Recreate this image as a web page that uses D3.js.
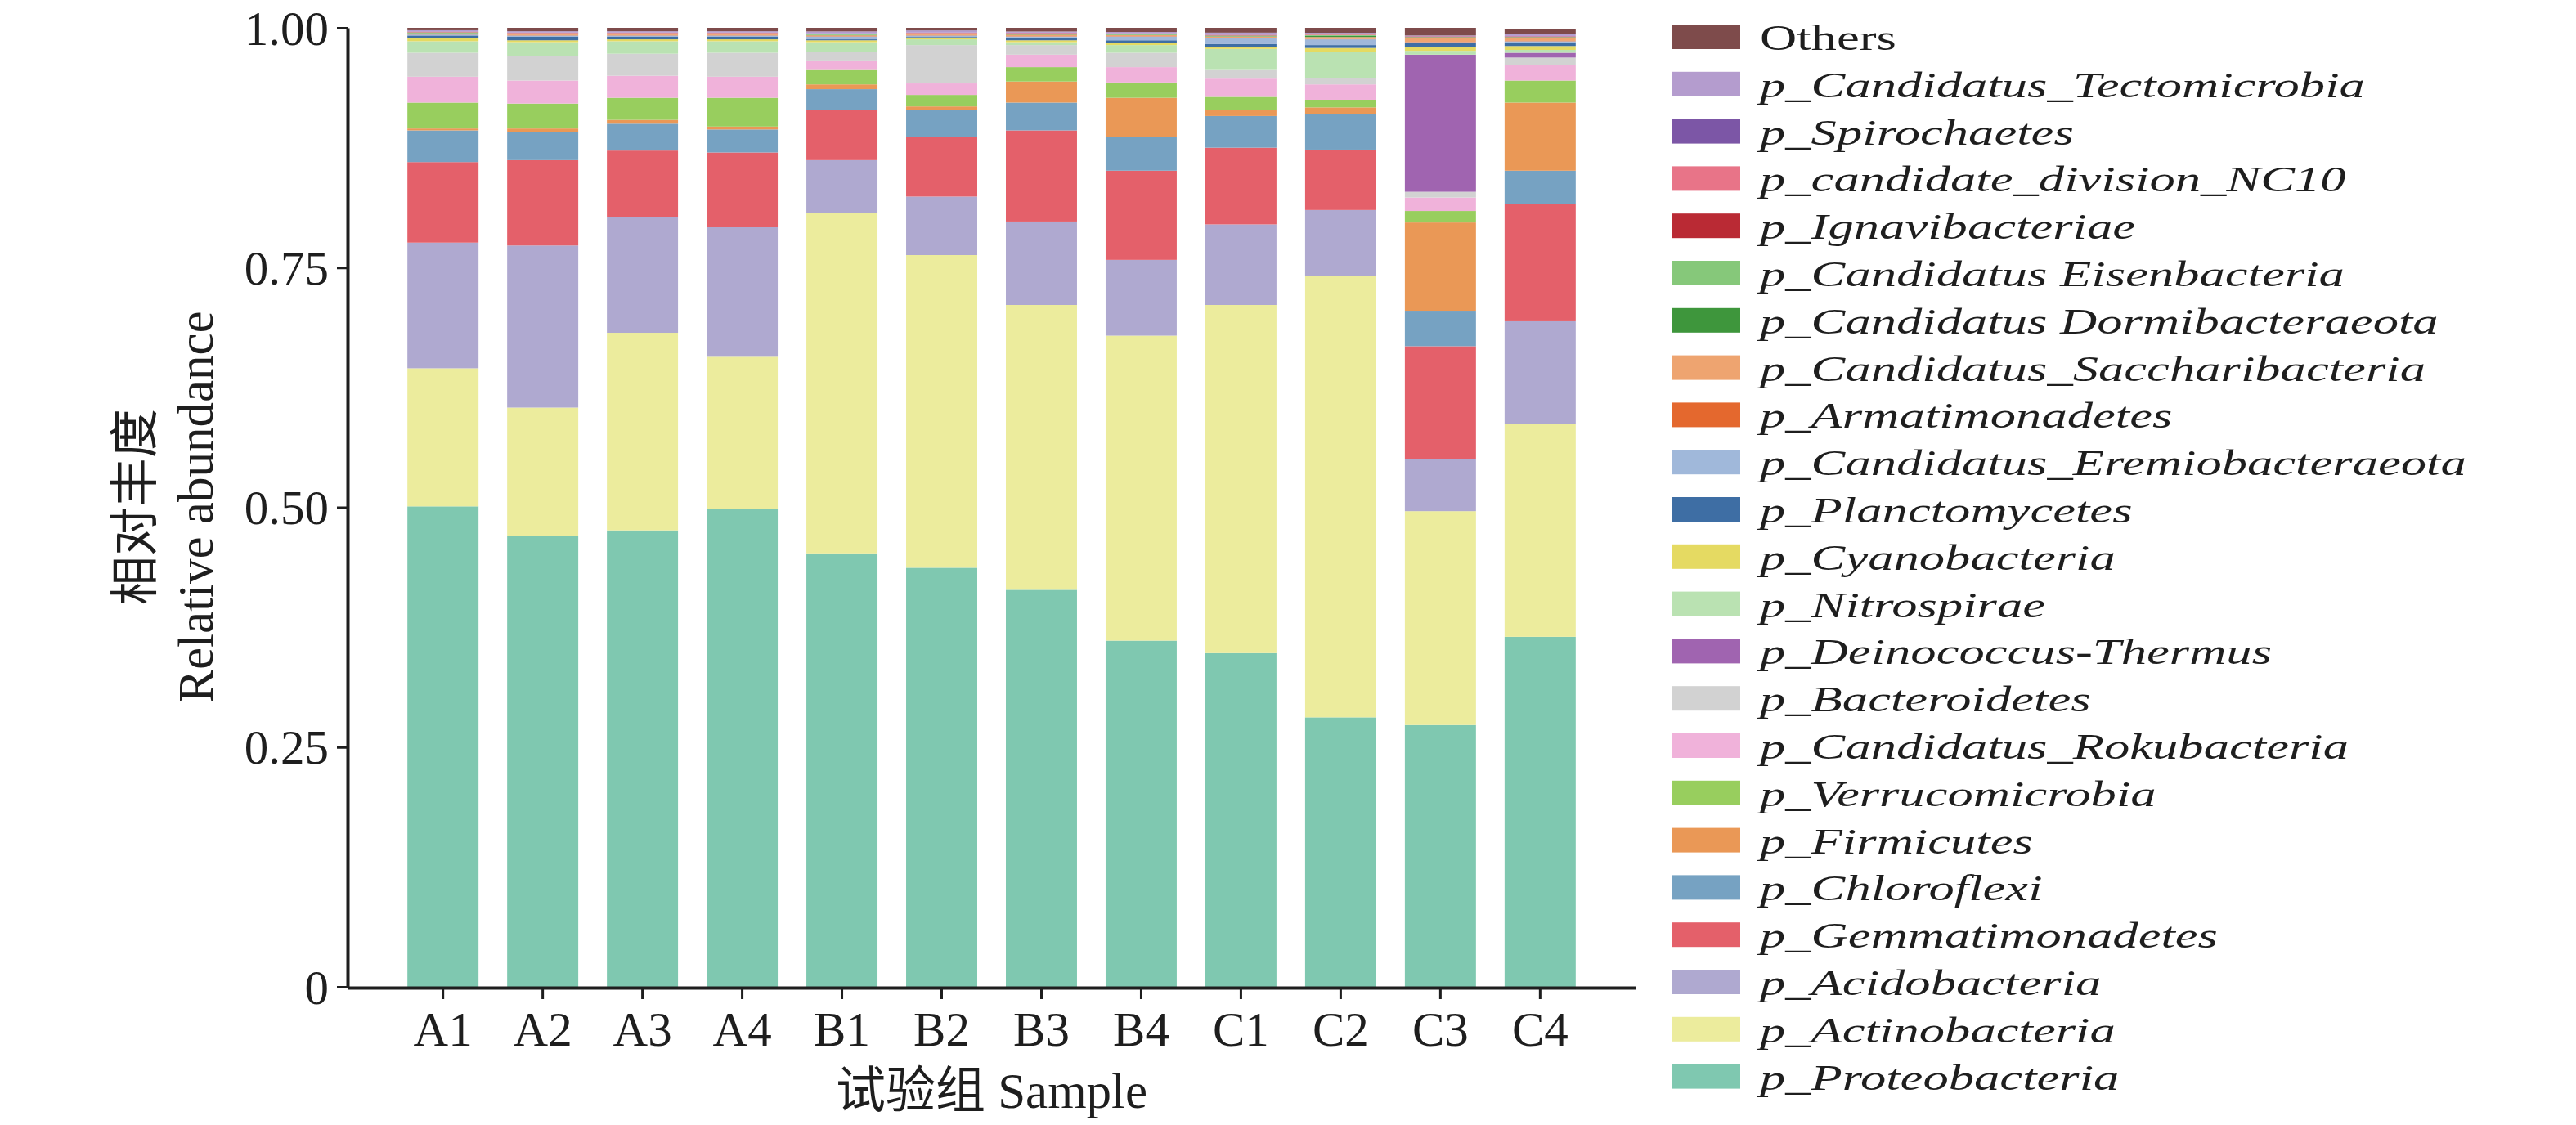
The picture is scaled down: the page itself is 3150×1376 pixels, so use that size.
<!DOCTYPE html>
<html>
<head>
<meta charset="utf-8">
<script src="https://cdn.jsdelivr.net/npm/d3@7"></script>
<style>
	body { margin: 0; background: #fff; }
	text { font-family: 'Liberation Serif', 'Times New Roman', 'Noto Sans CJK SC', serif; fill: #1e1e1e; }
</style>
</head>
<body>
<div id="js_chart"></div>
<script>
'use strict';

// samples on the x axis
const samples = ['A1', 'A2', 'A3', 'A4', 'B1', 'B2', 'B3', 'B4', 'C1', 'C2', 'C3', 'C4'];

// phyla, stacked bottom to top
const phyla = [
	'p_Proteobacteria', 'p_Actinobacteria', 'p_Acidobacteria', 'p_Gemmatimonadetes', 'p_Chloroflexi',
	'p_Firmicutes', 'p_Verrucomicrobia', 'p_Candidatus_Rokubacteria', 'p_Bacteroidetes',
	'p_Deinococcus-Thermus', 'p_Nitrospirae', 'p_Cyanobacteria', 'p_Planctomycetes',
	'p_Candidatus_Eremiobacteraeota', 'p_Armatimonadetes', 'p_Candidatus_Saccharibacteria',
	'p_Candidatus Dormibacteraeota', 'p_Candidatus Eisenbacteria', 'p_Ignavibacteriae',
	'p_candidate_division_NC10', 'p_Spirochaetes', 'p_Candidatus_Tectomicrobia', 'Others'
];

const phylumColors = [
	'#7fc8b0', '#ecec9d', '#afa9d0', '#e4606a', '#76a2c2',
	'#ea9856', '#98ce5e', '#f0b2da', '#d2d2d2',
	'#a064b0', '#bae2b2', '#e5da62', '#3e6ea4',
	'#a0b8da', '#e4682e', '#eea470',
	'#3e963c', '#86c87a', '#ba2a34',
	'#e87488', '#7c56a6', '#b49cce', '#7e4b4b'
];

// relative abundance per phylum, one value per sample (A1 ... C4)
const proteobacteria   = [0.501, 0.470, 0.476, 0.498, 0.452, 0.437, 0.414, 0.361, 0.348, 0.281, 0.273, 0.365];
const actinobacteria   = [0.144, 0.134, 0.206, 0.159, 0.355, 0.326, 0.297, 0.318, 0.363, 0.460, 0.223, 0.222];
const acidobacteria    = [0.131, 0.169, 0.121, 0.135, 0.055, 0.061, 0.087, 0.079, 0.084, 0.069, 0.054, 0.107];
const gemmatimonadetes = [0.084, 0.089, 0.069, 0.078, 0.052, 0.062, 0.095, 0.093, 0.080, 0.063, 0.118, 0.122];
const chloroflexi      = [0.033, 0.029, 0.028, 0.024, 0.022, 0.028, 0.029, 0.035, 0.033, 0.037, 0.037, 0.035];
const firmicutes       = [0.002, 0.004, 0.004, 0.003, 0.005, 0.004, 0.022, 0.041, 0.006, 0.007, 0.092, 0.071];
const verrucomicrobia  = [0.027, 0.026, 0.023, 0.030, 0.015, 0.012, 0.015, 0.016, 0.014, 0.008, 0.012, 0.023];
const rokubacteria     = [0.027, 0.024, 0.023, 0.022, 0.010, 0.012, 0.013, 0.016, 0.019, 0.016, 0.014, 0.016];
const bacteroidetes    = [0.025, 0.026, 0.023, 0.025, 0.009, 0.040, 0.010, 0.015, 0.009, 0.007, 0.006, 0.008];
const deinococcus      = [0.000, 0.000, 0.000, 0.000, 0.000, 0.000, 0.000, 0.000, 0.000, 0.000, 0.143, 0.005];
const nitrospirae      = [0.012, 0.014, 0.013, 0.012, 0.010, 0.006, 0.003, 0.008, 0.022, 0.027, 0.004, 0.003];
const cyanobacteria    = [0.003, 0.002, 0.002, 0.002, 0.002, 0.002, 0.002, 0.002, 0.002, 0.004, 0.004, 0.004];
const planctomycetes   = [0.003, 0.004, 0.003, 0.003, 0.001, 0.001, 0.003, 0.003, 0.003, 0.003, 0.004, 0.004];
const eremiobacteraeota= [0.001, 0.001, 0.001, 0.001, 0.003, 0.001, 0.001, 0.004, 0.006, 0.006, 0.001, 0.001];
const armatimonadetes  = [0.0004, 0.0004, 0.0004, 0.0004, 0.0004, 0.0004, 0.0004, 0.0004, 0.0004, 0.0004, 0.0004, 0.0004];
const saccharibacteria = [0.0008, 0.0008, 0.0008, 0.0008, 0.0008, 0.0008, 0.0015, 0.001, 0.0015, 0.002, 0.004, 0.003];
const dormibacteraeota = [0.0004, 0.0004, 0.0004, 0.0004, 0.0004, 0.0004, 0.0004, 0.0004, 0.0004, 0.0015, 0.0004, 0.0004];
const eisenbacteria    = [0.0006, 0.0006, 0.0006, 0.0006, 0.0006, 0.0006, 0.0006, 0.0006, 0.0006, 0.0006, 0.0006, 0.0006];
const ignavibacteriae  = [0.0003, 0.0003, 0.0003, 0.0003, 0.0003, 0.0003, 0.0003, 0.0003, 0.0003, 0.0003, 0.0003, 0.0003];
const divisionNC10     = [0.0005, 0.0005, 0.0005, 0.0005, 0.0005, 0.0005, 0.0005, 0.0005, 0.0005, 0.0005, 0.0005, 0.0005];
const spirochaetes     = [0.0003, 0.0003, 0.0003, 0.0003, 0.0003, 0.0003, 0.0003, 0.0003, 0.0003, 0.0003, 0.0003, 0.0003];
const tectomicrobia    = [0.0012, 0.0012, 0.0012, 0.0012, 0.002, 0.002, 0.0012, 0.0012, 0.002, 0.0012, 0.0005, 0.002];
const others           = [0.0025, 0.0035, 0.0035, 0.0035, 0.0037, 0.0027, 0.0038, 0.0043, 0.005, 0.0052, 0.008, 0.005];

const seriesValues = [
	proteobacteria, actinobacteria, acidobacteria, gemmatimonadetes, chloroflexi,
	firmicutes, verrucomicrobia, rokubacteria, bacteroidetes,
	deinococcus, nitrospirae, cyanobacteria, planctomycetes,
	eremiobacteraeota, armatimonadetes, saccharibacteria,
	dormibacteraeota, eisenbacteria, ignavibacteriae,
	divisionNC10, spirochaetes, tectomicrobia, others
];

const yTicks = [0, 0.25, 0.5, 0.75, 1];
const yTitleCn = '相对丰度';
const yTitleEn = 'Relative abundance';
const xTitle = '试验组 Sample';

(function () {
	const width = 3150;
	const height = 1376;
	const plot = { left: 425, right: 2000, top: 34, bottom: 1207 };
	const fontSize = 59;
	// legend text in the source is drawn wide: small size, stretched horizontally
	const legendFont = 43.5;
	const legendStretch = 1.44;

	const svg = d3.select('#js_chart').append('svg')
		.attr('width', width)
		.attr('height', height)
		.attr('id', 'stackSvg');

	// one row per sample, keyed by phylum
	let rows = samples.map(function (s, i) {
		let r = { sample: s };
		phyla.forEach(function (p, j) { r[p] = seriesValues[j][i]; });
		return r;
	});

	const xScale = d3.scaleBand()
		.domain(samples)
		.range([plot.left, plot.right])
		.paddingInner(0.287)
		.paddingOuter(0.6);

	const yScale = d3.scaleLinear()
		.domain([0, 1])
		.range([plot.bottom, plot.top]);

	const colorScale = d3.scaleOrdinal()
		.domain(phyla)
		.range(phylumColors);

	const stacked = d3.stack().keys(phyla)(rows);

	// Draw stacked bars
	svg.append('g').attr('id', 'bars')
		.selectAll('g')
		.data(stacked).enter().append('g')
		.style('fill', function (d) { return colorScale(d.key); })
		.selectAll('rect')
		.data(function (d) { return d; })
		.enter().append('rect')
		.attr('x', function (d) { return xScale(d.data.sample); })
		.attr('y', function (d) { return yScale(d[1]); })
		.attr('width', xScale.bandwidth())
		.attr('height', function (d) { return Math.max(0, yScale(d[0]) - yScale(d[1])); });

	// Axes
	let yAxis = d3.axisLeft(yScale)
		.tickValues(yTicks)
		.tickSize(13)
		.tickSizeOuter(0)
		.tickPadding(10)
		.tickFormat(function (d) { return d === 0 ? '0' : d3.format('.2f')(d); });

	let xAxis = d3.axisBottom(xScale)
		.tickSize(14)
		.tickSizeOuter(0)
		.tickPadding(15);

	let gy = svg.append('g')
		.attr('transform', 'translate(' + plot.left + ',0)')
		.call(yAxis);
	let gx = svg.append('g')
		.attr('transform', 'translate(0,' + (plot.bottom + 1) + ')')
		.call(xAxis);

	[gx, gy].forEach(function (g) {
		g.select('.domain').attr('stroke', '#1e1e1e').attr('stroke-width', 4);
		g.selectAll('.tick line').attr('stroke', '#1e1e1e').attr('stroke-width', 3);
		g.selectAll('.tick text')
			.attr('font-family', null)
			.style('font-size', fontSize + 'px')
			.attr('fill', '#1e1e1e');
	});
	gy.selectAll('.tick text').attr('dy', '0.34em');

	// Axis titles
	svg.append('text')
		.attr('transform', 'translate(186,620) rotate(-90)')
		.attr('text-anchor', 'middle')
		.style('font-size', '60px')
		.text(yTitleCn);
	svg.append('text')
		.attr('transform', 'translate(260,620) rotate(-90)')
		.attr('text-anchor', 'middle')
		.style('font-size', '61px')
		.text(yTitleEn);
	svg.append('text')
		.attr('x', (xScale(samples[0]) + xScale(samples[samples.length - 1]) + xScale.bandwidth()) / 2)
		.attr('y', 1355)
		.attr('text-anchor', 'middle')
		.style('font-size', '61px')
		.text(xTitle);

	// Legend, top item is the last stacked series
	const legendKeys = phyla.slice().reverse();
	const legendY = d3.scalePoint()
		.domain(legendKeys)
		.range([45, 45 + 57.8 * (legendKeys.length - 1)]);

	let items = svg.append('g').attr('id', 'legend')
		.selectAll('g')
		.data(legendKeys).enter().append('g')
		.attr('transform', function (d) { return 'translate(2044,' + legendY(d) + ')'; });

	items.append('rect')
		.attr('x', 0)
		.attr('y', -15)
		.attr('width', 84)
		.attr('height', 30)
		.style('fill', function (d) { return colorScale(d); });

	items.append('text')
		.attr('transform', 'translate(108,0) scale(' + legendStretch + ',1)')
		.attr('dy', '0.37em')
		.style('font-size', legendFont + 'px')
		.style('font-style', function (d) { return d === 'Others' ? 'normal' : 'italic'; })
		.text(function (d) { return d; });
})();
</script>
</body>
</html>
